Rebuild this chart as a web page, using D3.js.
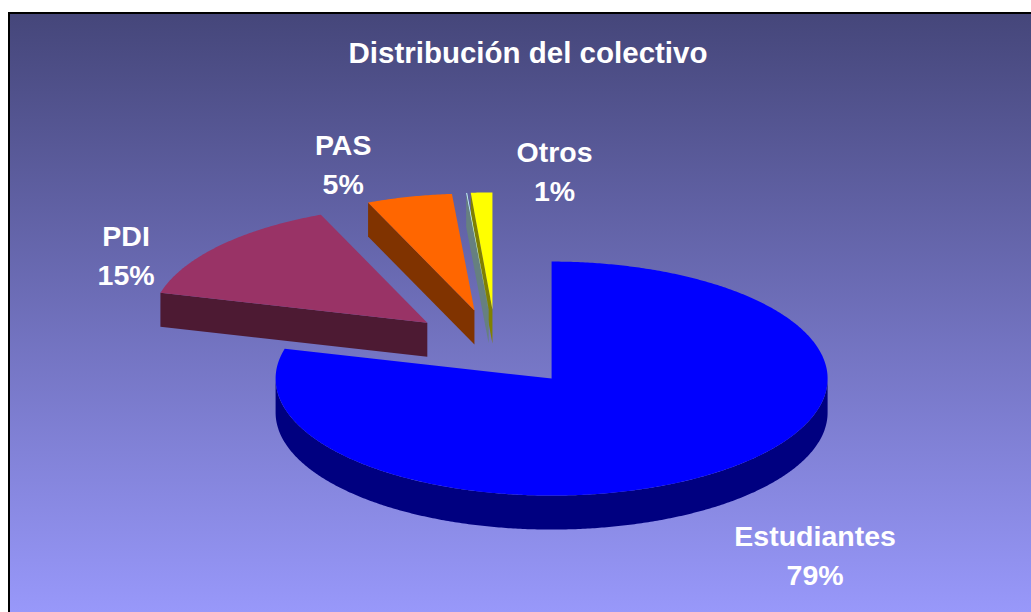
<!DOCTYPE html>
<html>
<head>
<meta charset="utf-8">
<script src="https://cdn.jsdelivr.net/npm/d3@7"></script>
<style>
  body { margin: 0; background: #fff; }
  svg { display: block; }
</style>
</head>
<body>
<script>
// chart data
const title = 'Distribución del colectivo';
const categories = ['Estudiantes', 'PDI', 'PAS', '', 'Otros'];
const values = [79.1, 14.6, 5.0, 0.05, 1.25];
const colors = ['#0000FF', '#993366', '#FF6600', '#CCFFFF', '#FFFF00'];

const width = 1031;
const height = 612;

// pie geometry (3d, tilted)
const cx = 496, cy = 348;
const rx = 276, ry = 117;
const depth = 34;
const explode = 0.33;

// label offsets from the outer edge of each slice, first line baseline
const labelOffset = {
    'Estudiantes': [95, 75],
    'PDI': [-93, 0],
    'PAS': [-66, -42],
    'Otros': [73, -31]
};
const lineGap = 39;

const svg = d3.select('body')
    .append('svg')
    .attr('width', width)
    .attr('height', height);

const grad = svg.append('defs')
    .append('linearGradient')
    .attr('id', 'bg')
    .attr('gradientUnits', 'userSpaceOnUse')
    .attr('x1', 0).attr('y1', 12)
    .attr('x2', 0).attr('y2', height);
grad.append('stop').attr('offset', 0).attr('stop-color', '#45467A');
grad.append('stop').attr('offset', 1).attr('stop-color', '#9898FA');

svg.append('rect')
    .attr('x', 9)
    .attr('y', 13)
    .attr('width', width + 20)
    .attr('height', height + 20)
    .attr('fill', 'url(#bg)')
    .attr('stroke', '#000')
    .attr('stroke-width', 2);

svg.append('text')
    .attr('x', 528)
    .attr('y', 63)
    .attr('text-anchor', 'middle')
    .attr('fill', '#fff')
    .style('font-family', '"Liberation Sans", Arial, sans-serif')
    .style('font-weight', 'bold')
    .style('font-size', '29.5px')
    .text(title);

const total = d3.sum(values);
const pie = d3.pie().sort(null).value(d => d.value);
const arcs = pie(categories.map((c, i) => ({ name: c, value: values[i], color: colors[i] })));

const pt = (o, a, h) => [o[0] + rx * Math.sin(a), o[1] - ry * Math.cos(a) + h];

function arcPoints(o, a0, a1, h) {
    const n = Math.max(2, Math.ceil((a1 - a0) / (Math.PI / 360)));
    return d3.range(n + 1).map(i => pt(o, a0 + (a1 - a0) * i / n, h));
}

const line = d3.line().curve(d3.curveLinearClosed);
const shade = c => {
    const r = d3.rgb(c);
    return d3.rgb(r.r / 2, r.g / 2, r.b / 2).formatHex();
};

arcs.forEach(d => {
    const mid = (d.startAngle + d.endAngle) / 2;
    d.o = [cx + explode * rx * Math.sin(mid), cy - explode * ry * Math.cos(mid)];
    d.mid = mid;
});

const pieG = svg.append('g');

// back slices first
arcs.slice().sort((a, b) => a.o[1] - b.o[1]).forEach(d => {
    const o = d.o;
    const a0 = d.startAngle, a1 = d.endAngle;
    const g = pieG.append('g');
    const side = shade(d.data.color);
    const base = [o[0], o[1] + depth];

    if (Math.sin(a0) < -1e-6) {
        g.append('path')
            .attr('d', line([o, pt(o, a0, 0), pt(o, a0, depth), base]))
            .attr('fill', side);
    }
    if (Math.sin(a1) > 1e-6) {
        g.append('path')
            .attr('d', line([o, pt(o, a1, 0), pt(o, a1, depth), base]))
            .attr('fill', side);
    }
    const s0 = Math.max(a0, Math.PI / 2), s1 = Math.min(a1, Math.PI * 1.5);
    if (s1 > s0) {
        const top = arcPoints(o, s0, s1, 0);
        const bottom = arcPoints(o, s0, s1, depth).reverse();
        g.append('path')
            .attr('d', line(top.concat(bottom)))
            .attr('fill', side);
    }
    g.append('path')
        .attr('d', line([o].concat(arcPoints(o, a0, a1, 0))))
        .attr('fill', d.data.color);
});

const labels = svg.append('g')
    .attr('fill', '#fff')
    .attr('text-anchor', 'middle')
    .style('font-family', '"Liberation Sans", Arial, sans-serif')
    .style('font-weight', 'bold')
    .style('font-size', '28.5px');

arcs.filter(d => labelOffset[d.data.name]).forEach(d => {
    const p = pt(d.o, d.mid, 0);
    const off = labelOffset[d.data.name];
    const t = labels.append('text')
        .attr('x', p[0] + off[0])
        .attr('y', p[1] + off[1]);
    t.append('tspan').text(d.data.name);
    t.append('tspan')
        .attr('x', p[0] + off[0])
        .attr('dy', lineGap)
        .text(Math.round(d.data.value / total * 100) + '%');
});
</script>
</body>
</html>
